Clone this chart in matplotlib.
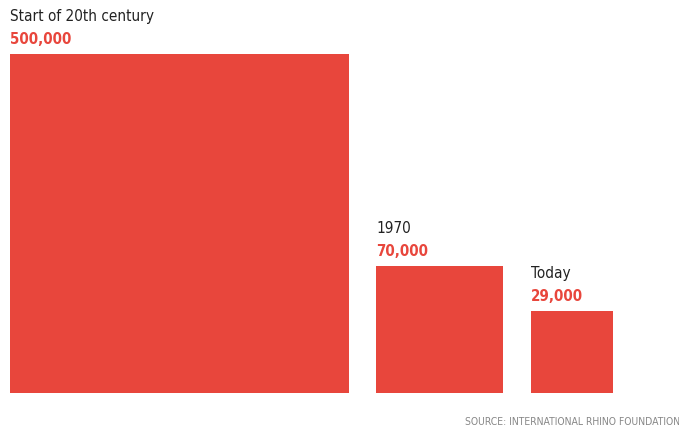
import numpy as np
from matplotlib import pyplot as plt
from matplotlib.patches import Rectangle

labels = ['Start of 20th century', '1970', 'Today']
values = [500000, 70000, 29000]
value_text = ['500,000', '70,000', '29,000']

red = '#e8463c'
font = ['DejaVu Sans']

# layout in pixels
W, H = 679, 429
base = 393          # common bottom of the squares
lefts = [10, 376, 531]
big_side = 339      # side of the largest square
scale = big_side / np.sqrt(max(values))

fig = plt.figure(figsize=(W / 100, H / 100), dpi=100)
ax = fig.add_axes([0, 0, 1, 1])
ax.set_xlim(0, W)
ax.set_ylim(H, 0)
ax.axis('off')

for x, v, lab, vt in zip(lefts, values, labels, value_text):
    side = scale * np.sqrt(v)
    top = base - side
    ax.add_patch(Rectangle((x, top), side, side, facecolor=red, edgecolor='none'))
    ax.text(x, top - 10, vt, color=red, fontsize=10.8, fontweight='bold',
            family=font, fontstretch='condensed', va='baseline', ha='left')
    ax.text(x, top - 33, lab, color='#222222', fontsize=11,
            family=font, fontstretch='condensed', va='baseline', ha='left')

ax.text(465, 425, 'SOURCE: INTERNATIONAL RHINO FOUNDATION', color='#888888',
        fontsize=7.5, family=font, fontstretch='condensed', va='baseline', ha='left', clip_on=False)

fig.savefig('out.png', dpi=100)
